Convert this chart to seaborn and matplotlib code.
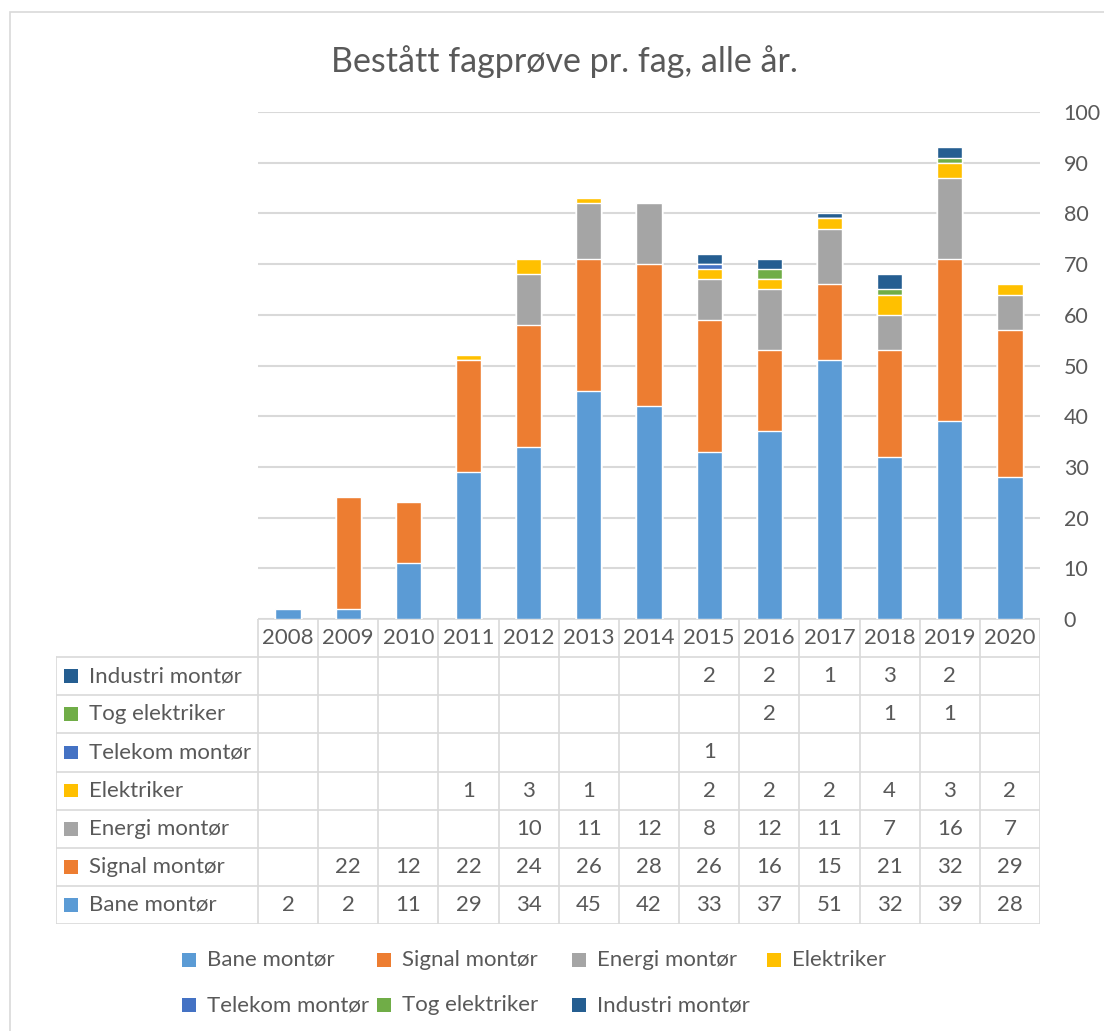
import numpy as np
import matplotlib.pyplot as plt
import seaborn as sns
from matplotlib.patches import Rectangle

years = ['2008', '2009', '2010', '2011', '2012', '2013', '2014',
         '2015', '2016', '2017', '2018', '2019', '2020']
series = ['Bane montør', 'Signal montør', 'Energi montør', 'Elektriker',
          'Telekom montør', 'Tog elektriker', 'Industri montør']
bane = [2, 2, 11, 29, 34, 45, 42, 33, 37, 51, 32, 39, 28]
signal = [0, 22, 12, 22, 24, 26, 28, 26, 16, 15, 21, 32, 29]
energi = [0, 0, 0, 0, 10, 11, 12, 8, 12, 11, 7, 16, 7]
elektriker = [0, 0, 0, 1, 3, 1, 0, 2, 2, 2, 4, 3, 2]
telekom = [0, 0, 0, 0, 0, 0, 0, 1, 0, 0, 0, 0, 0]
tog = [0, 0, 0, 0, 0, 0, 0, 0, 2, 0, 1, 1, 0]
industri = [0, 0, 0, 0, 0, 0, 0, 2, 2, 1, 3, 2, 0]
colors = ['#5B9BD5', '#ED7D31', '#A5A5A5', '#FFC000', '#4472C4', '#70AD47', '#255E91']

data = [bane, signal, energi, elektriker, telekom, tog, industri]
cum = np.cumsum(np.array(data), axis=0)

sns.set_style('white')
plt.rcParams['font.family'] = ['Lato', 'DejaVu Sans']
txt = '#595959'
grid = '#D9D9D9'
fs = 16

W, H = 1104, 1031
fig = plt.figure(figsize=(W / 100, H / 100), dpi=100)

def fx(px):
    return px / W

def fy(py):
    return 1 - py / H

fig.patches.append(Rectangle((fx(10), fy(1040)), 1.0, fy(12) - fy(1040),
                             transform=fig.transFigure, fill=False,
                             edgecolor=grid, lw=1.2))

# bars
ax = fig.add_axes([fx(258), fy(619), fx(1040) - fx(258), fy(112) - fy(619)])
for i in range(len(series) - 1, -1, -1):
    sns.barplot(x=years, y=cum[i], color=colors[i], saturation=1,
                width=0.42, ax=ax)
ax.set_xlim(-0.5, 12.5)
ax.set_ylim(0, 100)
ax.set_yticks(range(0, 101, 10))
ax.yaxis.tick_right()
ax.tick_params(axis='y', length=0, pad=17, labelsize=15.5, labelcolor=txt)
ax.set_xticks([])
ax.set_xlabel('')
ax.set_ylabel('')
ax.grid(axis='y', color=grid, lw=1.5)
ax.set_axisbelow(True)
for s in ax.spines.values():
    s.set_visible(False)

fig.text(fx(564), fy(62), 'Bestått fagprøve pr. fag, alle år.', fontsize=24.5,
         color=txt, ha='center', va='center')

# data table
tab = fig.add_axes([fx(56), fy(924), fx(1040) - fx(56), fy(619) - fy(924)])
left = -0.5 - 202 / (782 / 13)
tab.set_xlim(left, 12.5)
tab.set_ylim(8, 0)
tab.axis('off')
lw = 1.2
tab.plot([-0.5, 12.5], [0, 0], color=grid, lw=lw)
for r in range(1, 9):
    tab.plot([left, 12.5], [r, r], color=grid, lw=lw)
tab.plot([left, left], [1, 8], color=grid, lw=lw)
for c in range(14):
    tab.plot([c - 0.5, c - 0.5], [0, 8], color=grid, lw=lw)
for j, yr in enumerate(years):
    tab.text(j, 0.5, yr, ha='center', va='center', fontsize=fs, color=txt)
row_order = list(range(len(series) - 1, -1, -1))
for r, i in enumerate(row_order):
    y = r + 1.5
    tab.add_patch(Rectangle((left + 8 / 60.15, y - 0.18), 14 / 60.15, 0.36,
                            color=colors[i], lw=0))
    tab.text(left + 33 / 60.15, y, series[i], ha='left', va='center',
             fontsize=fs, color=txt)
    for j in range(len(years)):
        v = data[i][j]
        if v:
            tab.text(j, y, str(v), ha='center', va='center', fontsize=fs,
                     color=txt)

# legend
leg_pos = [(182, 960), (377, 960), (572, 960), (767, 960),
           (182, 1005), (377, 1005), (572, 1005)]
for i, (px, py) in enumerate(leg_pos):
    fig.patches.append(Rectangle((fx(px), fy(py + 7)), fx(14), 14 / H,
                                 transform=fig.transFigure, color=colors[i], lw=0))
    fig.text(fx(px + 25), fy(py), series[i], ha='left', va='center',
             fontsize=fs, color=txt)

plt.savefig('out.png', dpi=100)
